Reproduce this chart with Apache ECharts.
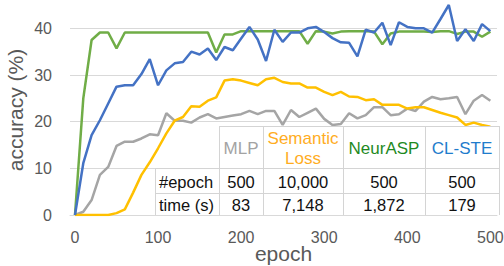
<!DOCTYPE html>
<html>
<head>
<meta charset="utf-8">
<script src="https://cdn.jsdelivr.net/npm/echarts@6/dist/echarts.min.js"></script>
<style>
  html, body { margin: 0; padding: 0; background: #fff; }
  #chart { width: 504px; height: 266px; }
</style>
</head>
<body>
<div id="chart"></div>
<script>
// 横轴：每 10 个 epoch 一个点
const epochs = [0, 10, 20, 30, 40, 50, 60, 70, 80, 90, 100, 110, 120, 130, 140, 150, 160, 170, 180, 190,
  200, 210, 220, 230, 240, 250, 260, 270, 280, 290, 300, 310, 320, 330, 340, 350, 360, 370, 380, 390,
  400, 410, 420, 430, 440, 450, 460, 470, 480, 490, 500];

const mlp = [0, 0.7, 3.2, 8.6, 10.3, 14.8, 15.7, 15.7, 16.4, 17.3, 17.1, 21.8, 20.2, 20.2, 19.8, 20.9, 21.6, 20.7, 21.0, 21.3,
  21.6, 22.3, 21.6, 22.3, 22.3, 19.3, 22.5, 21.0, 21.9, 22.8, 20.6, 19.3, 19.5, 21.8, 20.7, 21.4, 23.1, 23.1, 21.4, 21.6,
  22.8, 22.3, 24.3, 25.3, 24.8, 25.0, 25.3, 21.6, 24.5, 25.7, 24.5];

const semanticLoss = [0, 0, 0, 0, 0, 0.4, 1.2, 4.8, 8.6, 11.3, 14.3, 17.5, 20.2, 21.0, 23.3, 23.2, 24.5, 25.2, 28.8, 29.1,
  28.8, 28.3, 27.8, 29.1, 29.4, 28.5, 28.2, 28.2, 27.3, 27.3, 26.4, 25.7, 26.4, 25.4, 25.3, 24.6, 24.8, 23.6, 23.6, 23.6,
  22.8, 23.1, 23.1, 22.5, 21.9, 21.4, 20.9, 19.3, 19.8, 19.3, 18.9];

const neurASP = [0, 25.0, 37.5, 39.1, 39.1, 35.7, 39.1, 39.1, 39.1, 39.1, 39.1, 39.1, 39.1, 39.1, 39.1, 39.1, 39.1, 34.8, 38.7, 38.7,
  39.4, 39.4, 39.4, 39.4, 39.4, 39.4, 39.4, 39.4, 36.7, 39.4, 39.3, 38.9, 39.3, 39.4, 39.4, 39.4, 39.3, 36.6, 38.9, 39.3,
  39.3, 39.3, 39.3, 39.2, 39.4, 39.4, 38.8, 39.3, 39.3, 38.2, 39.3];

const clSTE = [0, 11.1, 17.1, 20.3, 23.9, 27.5, 27.8, 27.8, 30.2, 33.4, 27.8, 31.0, 32.5, 32.8, 35.0, 34.4, 35.7, 33.2, 36.0, 35.3,
  37.8, 40.3, 37.6, 33.0, 39.7, 37.1, 39.1, 39.1, 40.0, 40.3, 39.2, 37.9, 37.0, 36.9, 34.0, 39.7, 39.1, 41.2, 36.4, 41.3,
  40.3, 40.0, 40.0, 39.1, 42.0, 45.0, 37.3, 39.8, 37.3, 40.9, 39.4];

const xTicks = [0, 100, 200, 300, 400, 500];

// 表格内容
const methods = ['MLP', 'Semantic\nLoss', 'NeurASP', 'CL-STE'];
const methodColors = ['#a3a3a3', '#ffad1f', '#1f8a1f', '#1f7ccc'];
const rowNames = ['#epoch', 'time (s)'];
const epochCounts = ['500', '10,000', '500', '500'];
const trainTimes = ['83', '7,148', '1,872', '179'];

const FONT = '"Liberation Sans", Arial, sans-serif';

const toPoints = (ys) => epochs.map((e, i) => [e, ys[i]]);

// 表格位置
const colX = [155, 219, 263, 343, 425, 499];
const rowY = [126, 168, 193, 215];
const borderColor = '#d4d4d4';

const tableGraphic = [];
// 白底（左上空白格除外）
tableGraphic.push({
  type: 'rect', z: 100,
  shape: { x: colX[1], y: rowY[0], width: colX[5] - colX[1], height: rowY[1] - rowY[0] },
  style: { fill: '#fff' }
});
tableGraphic.push({
  type: 'rect', z: 100,
  shape: { x: colX[0], y: rowY[1], width: colX[5] - colX[0], height: rowY[3] - rowY[1] },
  style: { fill: '#fff' }
});
// 横线
tableGraphic.push({ type: 'line', z: 101, shape: { x1: colX[1], y1: rowY[0] + 0.5, x2: colX[5], y2: rowY[0] + 0.5 }, style: { stroke: borderColor, lineWidth: 1 } });
tableGraphic.push({ type: 'line', z: 101, shape: { x1: colX[0], y1: rowY[1] + 0.5, x2: colX[5], y2: rowY[1] + 0.5 }, style: { stroke: borderColor, lineWidth: 1 } });
tableGraphic.push({ type: 'line', z: 101, shape: { x1: colX[0], y1: rowY[2] + 0.5, x2: colX[5], y2: rowY[2] + 0.5 }, style: { stroke: borderColor, lineWidth: 1 } });
// 竖线
colX.forEach((x, i) => {
  const top = i === 0 ? rowY[1] : rowY[0];
  tableGraphic.push({ type: 'line', z: 101, shape: { x1: x + 0.5, y1: top, x2: x + 0.5, y2: rowY[3] }, style: { stroke: borderColor, lineWidth: 1 } });
});
// 表头
methods.forEach((name, i) => {
  tableGraphic.push({
    type: 'text', z: 102,
    style: {
      text: name, x: (colX[i + 1] + colX[i + 2]) / 2, y: (rowY[0] + rowY[1]) / 2 + 1,
      align: 'center', verticalAlign: 'middle', lineHeight: 20,
      font: '17px ' + FONT, fill: methodColors[i]
    }
  });
});
// 行
[epochCounts, trainTimes].forEach((row, r) => {
  const cy = (rowY[r + 1] + rowY[r + 2]) / 2 + 1;
  tableGraphic.push({
    type: 'text', z: 102,
    style: { text: rowNames[r], x: colX[0] + 4, y: cy, align: 'left', verticalAlign: 'middle', font: '16.5px ' + FONT, fill: '#111' }
  });
  row.forEach((v, i) => {
    tableGraphic.push({
      type: 'text', z: 102,
      style: { text: v, x: (colX[i + 1] + colX[i + 2]) / 2, y: cy, align: 'center', verticalAlign: 'middle', font: '16.5px ' + FONT, fill: '#111' }
    });
  });
});

const lineSeries = (name, data, color) => ({
  name: name,
  type: 'line',
  data: toPoints(data),
  showSymbol: false,
  symbol: 'none',
  lineStyle: { color: color, width: 2.5 },
  itemStyle: { color: color },
  emphasis: { disabled: true }
});

const chartOption = {
  animation: false,
  backgroundColor: '#fff',
  grid: { left: 70, right: 7, top: 5, bottom: 51, containLabel: false, outerBoundsMode: 'none' },
  xAxis: {
    type: 'value',
    min: -6,
    max: 508,
    name: 'epoch',
    nameLocation: 'middle',
    nameGap: 28,
    nameMoveOverlap: false,
    nameTextStyle: { fontFamily: FONT, fontSize: 21, color: '#595959' },
    axisLine: { show: true, lineStyle: { color: '#d9d9d9', width: 1 } },
    axisTick: { show: false },
    splitLine: { show: false },
    axisLabel: {
      customValues: xTicks,
      margin: 14,
      fontFamily: FONT,
      fontSize: 16,
      color: '#595959'
    }
  },
  yAxis: {
    type: 'value',
    min: 0,
    max: 45,
    interval: 10,
    name: 'accuracy (%)',
    nameLocation: 'middle',
    nameGap: 44,
    nameMoveOverlap: false,
    nameTextStyle: { fontFamily: FONT, fontSize: 21, color: '#595959' },
    axisLine: { show: false },
    axisTick: { show: false },
    splitLine: { show: true, showMaxLine: false, lineStyle: { color: '#d9d9d9', width: 1 } },
    axisLabel: {
      showMaxLabel: false,
      margin: 18,
      fontFamily: FONT,
      fontSize: 16,
      color: '#595959'
    }
  },
  series: [
    lineSeries('MLP', mlp, '#a5a5a5'),
    lineSeries('Semantic Loss', semanticLoss, '#ffc000'),
    lineSeries('NeurASP', neurASP, '#70ad47'),
    lineSeries('CL-STE', clSTE, '#4472c4')
  ],
  graphic: tableGraphic
};

const chartInstance = echarts.init(document.getElementById('chart'), null, { renderer: 'svg' });
chartInstance.setOption(chartOption);
</script>
</body>
</html>
